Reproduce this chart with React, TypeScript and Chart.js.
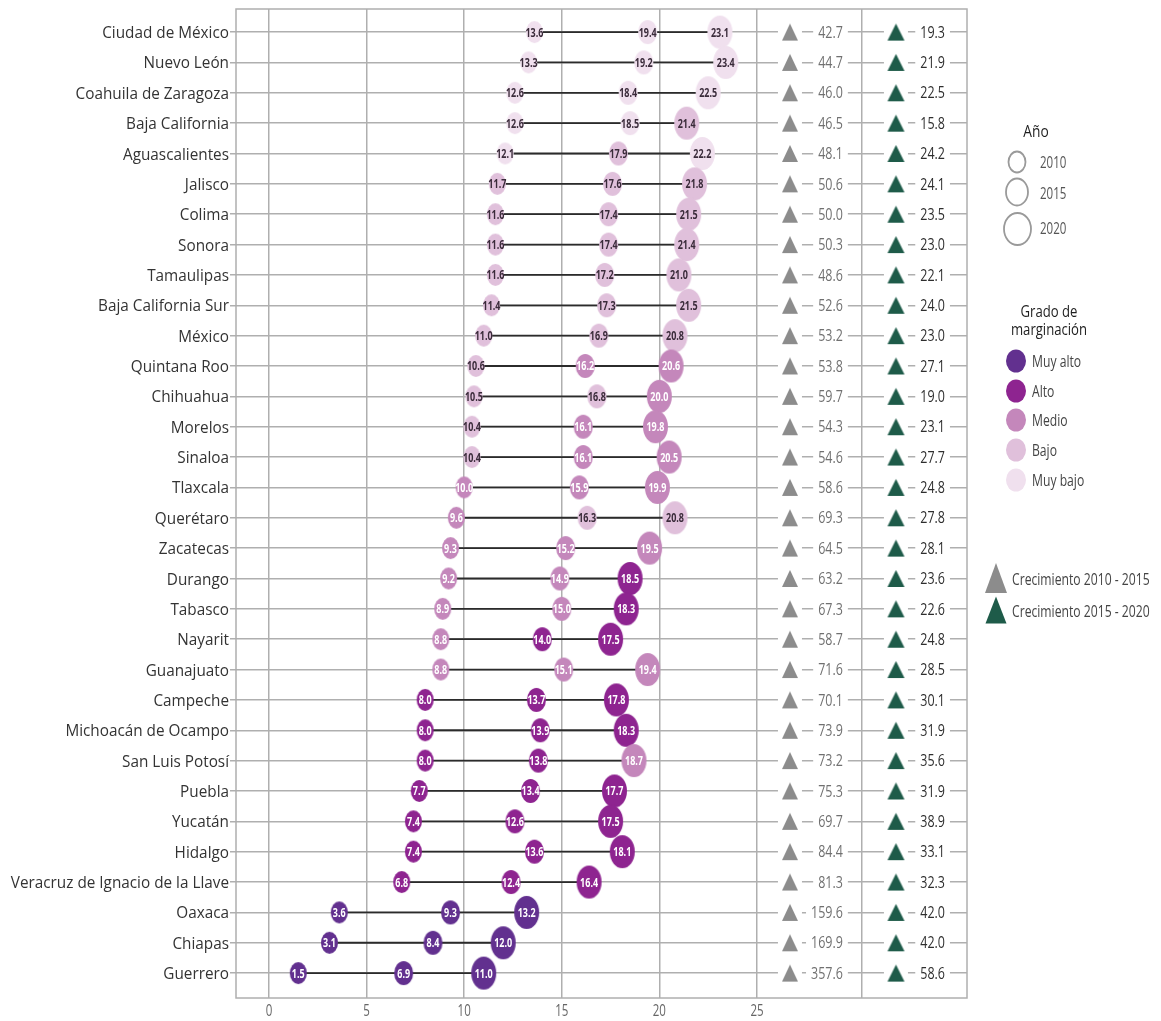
import React, { useEffect, useRef } from "react";
import { Chart, registerables } from "chart.js";

Chart.register(...registerables);

// ---------------- DATA ----------------
const states = [
  "Ciudad de México", "Nuevo León", "Coahuila de Zaragoza", "Baja California", "Aguascalientes",
  "Jalisco", "Colima", "Sonora", "Tamaulipas", "Baja California Sur", "México", "Quintana Roo",
  "Chihuahua", "Morelos", "Sinaloa", "Tlaxcala", "Querétaro", "Zacatecas", "Durango", "Tabasco",
  "Nayarit", "Guanajuato", "Campeche", "Michoacán de Ocampo", "San Luis Potosí", "Puebla",
  "Yucatán", "Hidalgo", "Veracruz de Ignacio de la Llave", "Oaxaca", "Chiapas", "Guerrero",
];

const values2010 = [13.6, 13.3, 12.6, 12.6, 12.1, 11.7, 11.6, 11.6, 11.6, 11.4, 11.0, 10.6, 10.5, 10.4, 10.4, 10.0, 9.6, 9.3, 9.2, 8.9, 8.8, 8.8, 8.0, 8.0, 8.0, 7.7, 7.4, 7.4, 6.8, 3.6, 3.1, 1.5];
const values2015 = [19.4, 19.2, 18.4, 18.5, 17.9, 17.6, 17.4, 17.4, 17.2, 17.3, 16.9, 16.2, 16.8, 16.1, 16.1, 15.9, 16.3, 15.2, 14.9, 15.0, 14.0, 15.1, 13.7, 13.9, 13.8, 13.4, 12.6, 13.6, 12.4, 9.3, 8.4, 6.9];
const values2020 = [23.1, 23.4, 22.5, 21.4, 22.2, 21.8, 21.5, 21.4, 21.0, 21.5, 20.8, 20.6, 20.0, 19.8, 20.5, 19.9, 20.8, 19.5, 18.5, 18.3, 17.5, 19.4, 17.8, 18.3, 18.7, 17.7, 17.5, 18.1, 16.4, 13.2, 12.0, 11.0];

const grade2010 = ["MB", "MB", "MB", "MB", "MB", "B", "B", "B", "B", "B", "B", "B", "B", "B", "B", "M", "M", "M", "M", "M", "M", "M", "A", "A", "A", "A", "A", "A", "A", "MA", "MA", "MA"];
const grade2015 = ["MB", "MB", "MB", "MB", "B", "B", "B", "B", "B", "B", "B", "M", "B", "M", "M", "M", "B", "M", "M", "M", "A", "M", "A", "A", "A", "A", "A", "A", "A", "MA", "MA", "MA"];
const grade2020 = ["MB", "MB", "MB", "B", "MB", "B", "B", "B", "B", "B", "B", "M", "M", "M", "M", "M", "B", "M", "A", "A", "A", "M", "A", "A", "M", "A", "A", "A", "A", "MA", "MA", "MA"];

const growth2010_2015 = [42.7, 44.7, 46.0, 46.5, 48.1, 50.6, 50.0, 50.3, 48.6, 52.6, 53.2, 53.8, 59.7, 54.3, 54.6, 58.6, 69.3, 64.5, 63.2, 67.3, 58.7, 71.6, 70.1, 73.9, 73.2, 75.3, 69.7, 84.4, 81.3, 159.6, 169.9, 357.6];
const growth2015_2020 = [19.3, 21.9, 22.5, 15.8, 24.2, 24.1, 23.5, 23.0, 22.1, 24.0, 23.0, 27.1, 19.0, 23.1, 27.7, 24.8, 27.8, 28.1, 23.6, 22.6, 24.8, 28.5, 30.1, 31.9, 35.6, 31.9, 38.9, 33.1, 32.3, 42.0, 42.0, 58.6];

const xTickValues = [0, 5, 10, 15, 20, 25];
const yearLabels = ["2010", "2015", "2020"];
const gradeKeys = ["MA", "A", "M", "B", "MB"];
const gradeLabels = ["Muy alto", "Alto", "Medio", "Bajo", "Muy bajo"];
const growthLabels = ["Crecimiento 2010 - 2015", "Crecimiento 2015 - 2020"];

// ---------------- LAYOUT / STYLE ----------------
const W = 1161;
const H = 1021;
const X_MIN = -1.69;
const X_MAX = 35.76;
const Y_MIN = -0.76;
const Y_MAX = 31.82;
const COL1_TRI = 26.69;
const COL1_TEXT_RIGHT = 29.4;
const DIVIDER = 30.38;
const COL2_TRI = 32.12;
const COL2_TEXT_RIGHT = 34.63;

const GRID = "#afafaf";
const FONT = '"Open Sans", sans-serif';
const gradeColors: Record<string, string> = {
  MA: "#62308f",
  A: "#8e2490",
  M: "#c487bb",
  B: "#e0c0db",
  MB: "#f0e0ee",
};
const GRAY_TRI = "#8c8c8c";
const GREEN_TRI = "#1e5b49";
const bubbleSizes = [
  [17, 22],
  [19, 24],
  [25, 33],
];

const imgCache = new Map<string, HTMLCanvasElement>();
function ellipseImg(fill: string, w: number, h: number): HTMLCanvasElement {
  const key = `e|${fill}|${w}|${h}`;
  const c0 = imgCache.get(key);
  if (c0) return c0;
  const c = document.createElement("canvas");
  c.width = w + 2;
  c.height = h + 2;
  const g = c.getContext("2d")!;
  g.fillStyle = fill;
  g.beginPath();
  g.ellipse(c.width / 2, c.height / 2, w / 2, h / 2, 0, 0, Math.PI * 2);
  g.fill();
  imgCache.set(key, c);
  return c;
}
function triangleImg(fill: string, w: number, h: number): HTMLCanvasElement {
  const key = `t|${fill}|${w}|${h}`;
  const c0 = imgCache.get(key);
  if (c0) return c0;
  const c = document.createElement("canvas");
  c.width = w + 2;
  c.height = h + 2;
  const g = c.getContext("2d")!;
  g.fillStyle = fill;
  g.beginPath();
  g.moveTo(c.width / 2, 1);
  g.lineTo(1 + w, 1 + h);
  g.lineTo(1, 1 + h);
  g.closePath();
  g.fill();
  imgCache.set(key, c);
  return c;
}

function txt(
  ctx: CanvasRenderingContext2D,
  s: string,
  x: number,
  y: number,
  size: number,
  color: string,
  align: CanvasTextAlign,
  sx: number,
  weight = "400"
) {
  ctx.save();
  ctx.font = `${weight} ${size}px ${FONT}`;
  ctx.fillStyle = color;
  ctx.textAlign = align;
  ctx.textBaseline = "alphabetic";
  ctx.translate(x, y + size * 0.357);
  ctx.scale(sx, 1);
  ctx.fillText(s, 0, 0);
  ctx.restore();
}
function txtWidth(ctx: CanvasRenderingContext2D, s: string, size: number, sx: number, weight = "400") {
  ctx.save();
  ctx.font = `${weight} ${size}px ${FONT}`;
  const w = ctx.measureText(s).width * sx;
  ctx.restore();
  return w;
}

const customDraw = {
  id: "customDraw",
  beforeDatasetsDraw(chart: any) {
    const { ctx, chartArea: a } = chart;
    const x = chart.scales.x;
    const y = chart.scales.y;
    ctx.save();
    ctx.strokeStyle = GRID;
    ctx.lineWidth = 1.5;
    ctx.strokeRect(a.left, a.top, a.right - a.left, a.bottom - a.top);
    ctx.restore();

    const cols = [
      { tri: COL1_TRI, right: COL1_TEXT_RIGHT, vals: growth2010_2015, color: "#707070" },
      { tri: COL2_TRI, right: COL2_TEXT_RIGHT, vals: growth2015_2020, color: "#2e2e2e" },
    ];
    const size = 16;
    const sx = 0.78;
    cols.forEach((col) => {
      const tx = x.getPixelForValue(col.tri);
      const rx = x.getPixelForValue(col.right);
      col.vals.forEach((v: number, i: number) => {
        const yy = y.getPixelForValue(i);
        const s = v.toFixed(1);
        const w = txtWidth(ctx, s, size, sx);
        ctx.save();
        ctx.fillStyle = "#ffffff";
        ctx.fillRect(tx - 12, yy - 4, 24, 8);
        ctx.fillRect(rx - w - 5, yy - 4, w + 10, 8);
        ctx.restore();
        txt(ctx, s, rx, yy, size, col.color, "right", sx);
      });
    });
  },
  afterDatasetsDraw(chart: any) {
    const { ctx } = chart;
    const grades = [grade2010, grade2015, grade2020];
    const vals = [values2010, values2015, values2020];
    for (let k = 0; k < 3; k++) {
      const meta = chart.getDatasetMeta(k + 1);
      meta.data.forEach((el: any, i: number) => {
        const g = grades[k][i];
        const color = g === "MB" || g === "B" ? "#3a2b3a" : "#ffffff";
        txt(ctx, vals[k][i].toFixed(1), el.x, el.y, 12.5, color, "center", 0.72, "700");
      });
    }
  },
  afterDraw(chart: any) {
    const { ctx, chartArea: a } = chart;
    const x = chart.scales.x;
    const y = chart.scales.y;
    // y labels
    states.forEach((s, i) => {
      txt(ctx, s, a.left - 7, y.getPixelForValue(i), 17, "#333333", "right", 0.9);
    });
    // x labels
    xTickValues.forEach((v) => {
      txt(ctx, String(v), x.getPixelForValue(v), a.bottom + 12, 16, "#666666", "center", 0.72);
    });

    // ---- Legend: Año ----
    txt(ctx, "Año", 1036, 131, 16, "#1e1e1e", "center", 0.86);
    const legendYears = [
      { cx: 1017, cy: 162, w: 17, h: 21, ty: 162 },
      { cx: 1017, cy: 192, w: 22, h: 27, ty: 193 },
      { cx: 1017.5, cy: 229, w: 27, h: 32, ty: 228 },
    ];
    legendYears.forEach((l, k) => {
      ctx.save();
      ctx.strokeStyle = "#9a9a9a";
      ctx.lineWidth = 1.8;
      ctx.beginPath();
      ctx.ellipse(l.cx, l.cy, l.w / 2, l.h / 2, 0, 0, Math.PI * 2);
      ctx.stroke();
      ctx.restore();
      txt(ctx, yearLabels[k], 1040, l.ty, 16, "#555555", "left", 0.72);
    });

    // ---- Legend: Grado de marginación ----
    txt(ctx, "Grado de", 1049, 311, 16, "#1e1e1e", "center", 0.82);
    txt(ctx, "marginación", 1049, 329, 16, "#1e1e1e", "center", 0.82);
    const gy = [361, 391, 420, 450, 480];
    gradeKeys.forEach((g, k) => {
      ctx.save();
      ctx.fillStyle = gradeColors[g];
      ctx.beginPath();
      ctx.ellipse(1016, gy[k], 10, 11.5, 0, 0, Math.PI * 2);
      ctx.fill();
      ctx.restore();
      txt(ctx, gradeLabels[k], 1032, gy[k], 16, "#444444", "left", 0.76);
    });

    // ---- Legend: Crecimiento ----
    const tri = [
      { cy: 578, w: 22, h: 30, c: GRAY_TRI },
      { cy: 610, w: 21, h: 27, c: GREEN_TRI },
    ];
    tri.forEach((t, k) => {
      ctx.save();
      ctx.fillStyle = t.c;
      ctx.beginPath();
      ctx.moveTo(996, t.cy - t.h / 2);
      ctx.lineTo(996 + t.w / 2, t.cy + t.h / 2);
      ctx.lineTo(996 - t.w / 2, t.cy + t.h / 2);
      ctx.closePath();
      ctx.fill();
      ctx.restore();
      txt(ctx, growthLabels[k], 1012, t.cy + 1, 16, "#444444", "left", 0.76);
    });
  },
};

export default function App() {
  const ref = useRef<HTMLCanvasElement | null>(null);

  useEffect(() => {
    if (!ref.current) return;
    const connector: any[] = [];
    states.forEach((_, i) => {
      connector.push({ x: values2010[i], y: i });
      connector.push({ x: values2020[i], y: i });
      connector.push({ x: null, y: null });
    });
    const yearValues = [values2010, values2015, values2020];
    const yearGrades = [grade2010, grade2015, grade2020];

    const chart = new Chart(ref.current, {
      type: "scatter",
      data: {
        datasets: [
          {
            label: "conector",
            data: connector,
            showLine: true,
            spanGaps: false,
            borderColor: "#2b2b2b",
            borderWidth: 1.8,
            pointRadius: 0,
            order: 10,
          } as any,
          ...[0, 1, 2].map((k) => ({
            label: yearLabels[k],
            data: yearValues[k].map((v, i) => ({ x: v, y: i })),
            pointRadius: 6,
            pointStyle: (c: any) =>
              ellipseImg(gradeColors[yearGrades[k][c.dataIndex]], bubbleSizes[k][0], bubbleSizes[k][1]),
            order: 3 - k,
          })),
          {
            label: growthLabels[0],
            data: states.map((_, i) => ({ x: COL1_TRI, y: i })),
            pointRadius: 6,
            pointStyle: triangleImg(GRAY_TRI, 16, 17),
            order: 0,
          } as any,
          {
            label: growthLabels[1],
            data: states.map((_, i) => ({ x: COL2_TRI, y: i })),
            pointRadius: 6,
            pointStyle: triangleImg(GREEN_TRI, 17, 17),
            order: 0,
          } as any,
        ],
      },
      options: {
        animation: false,
        responsive: false,
        devicePixelRatio: 1,
        events: [],
        layout: { padding: { top: 9, right: W - 967, left: 0, bottom: 0 } },
        plugins: { legend: { display: false }, tooltip: { enabled: false } },
        scales: {
          x: {
            type: "linear",
            min: X_MIN,
            max: X_MAX,
            afterBuildTicks: (s: any) => {
              s.ticks = [...xTickValues, DIVIDER].map((v) => ({ value: v }));
            },
            afterFit: (s: any) => {
              s.height = H - 998;
            },
            grid: { color: GRID, lineWidth: 1.5, drawTicks: false },
            border: { display: false },
            ticks: { display: false },
          },
          y: {
            type: "linear",
            reverse: true,
            min: Y_MIN,
            max: Y_MAX,
            afterBuildTicks: (s: any) => {
              s.ticks = states.map((_, i) => ({ value: i }));
            },
            afterFit: (s: any) => {
              s.width = 236;
            },
            grid: { color: GRID, lineWidth: 1.5, tickLength: 6, drawTicks: true },
            border: { display: false },
            ticks: { display: false },
          },
        },
      } as any,
      plugins: [customDraw],
    });
    return () => chart.destroy();
  }, []);

  return (
    <div style={{ position: "absolute", left: 0, top: 0, width: W, height: H, background: "#ffffff" }}>
      <canvas ref={ref} width={W} height={H} style={{ display: "block" }} />
    </div>
  );
}
